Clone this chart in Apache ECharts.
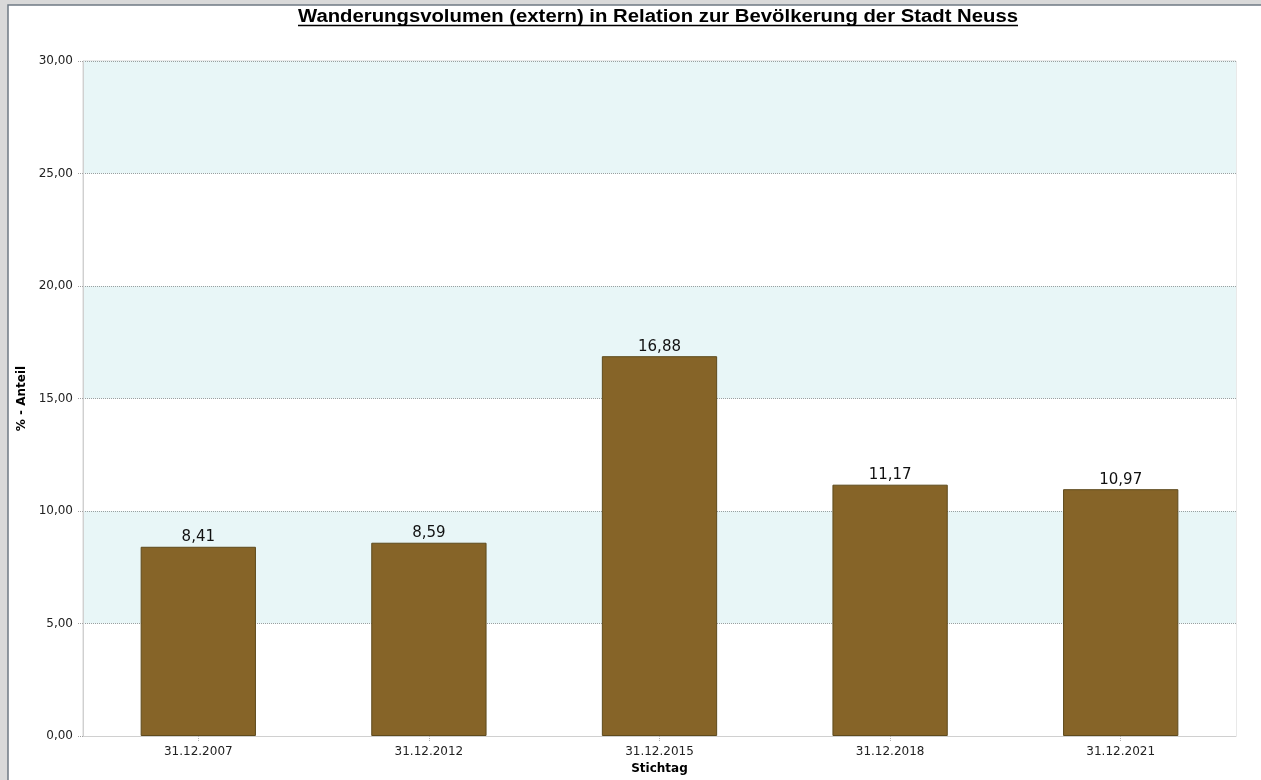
<!DOCTYPE html>
<html>
<head>
<meta charset="utf-8">
<script src="https://cdn.jsdelivr.net/npm/echarts@6/dist/echarts.min.js"></script>
<style>
  html, body { margin: 0; padding: 0; background: #d9d9d9; }
  #main { width: 1261px; height: 780px; }
</style>
</head>
<body>
<div id="main"></div>
<script>
// Daten
var categories = ['31.12.2007', '31.12.2012', '31.12.2015', '31.12.2018', '31.12.2021'];
var values = [8.41, 8.59, 16.88, 11.17, 10.97];
var titleText = 'Wanderungsvolumen (extern) in Relation zur Bevölkerung der Stadt Neuss';

function fmt(v) {
  return Number(v).toFixed(2).replace('.', ',');
}

// Titel etwas breiter laufen lassen (wie im Original), Unterstreichung passend
var titleFont = 'bold 18px "Liberation Sans", Arial, sans-serif';
var cv = document.createElement('canvas').getContext('2d');
cv.font = titleFont;
var tw = cv.measureText(titleText).width;
var targetW = 720;
var tcx = 658;

var myChart = echarts.init(document.getElementById('main'));
myChart.setOption({
  backgroundColor: '#d9d9d9',
  animation: false,
  graphic: [
    // weisses Fenster mit Rahmen
    { type: 'rect', shape: { x: 8, y: 5, width: 1260, height: 780 },
      style: { fill: '#ffffff', stroke: '#6f7a84', lineWidth: 1.5 }, z: -10 },
    { type: 'text', x: tcx, y: 17, scaleX: targetW / tw,
      style: { text: titleText, font: titleFont, fill: '#000',
        textAlign: 'center', textVerticalAlign: 'middle' } },
    { type: 'line', shape: { x1: tcx - targetW / 2, y1: 25.5, x2: tcx + targetW / 2, y2: 25.5 },
      style: { stroke: '#000', lineWidth: 1.5 } }
  ],
  grid: {
    left: 83,
    right: 25,
    top: 61,
    bottom: 44,
    outerBoundsMode: 'none',
    show: true,
    borderColor: '#d4d4d4',
    borderWidth: 1,
    backgroundColor: 'transparent'
  },
  xAxis: {
    type: 'category',
    data: categories,
    name: 'Stichtag',
    nameLocation: 'middle',
    nameGap: 27,
    nameTextStyle: { fontWeight: 'bold', fontSize: 12, color: '#000', fontFamily: 'DejaVu Sans' },
    axisLine: { lineStyle: { color: '#d0d0d0' } },
    axisTick: { show: true, alignWithLabel: true, length: 5, lineStyle: { color: '#b0b0b0', type: 'dotted' } },
    axisLabel: { color: '#222', fontSize: 12, fontFamily: 'DejaVu Sans', margin: 10 }
  },
  yAxis: {
    type: 'value',
    min: 0,
    max: 30,
    interval: 5,
    name: '% - Anteil',
    nameLocation: 'middle',
    nameGap: 54,
    nameTextStyle: { fontWeight: 'bold', fontSize: 12, color: '#000', fontFamily: 'DejaVu Sans' },
    axisLine: { show: true, lineStyle: { color: '#d0d0d0' } },
    axisTick: { show: true, length: 6, lineStyle: { color: '#a0a0a0', type: 'dotted' } },
    axisLabel: { color: '#222', fontSize: 12, fontFamily: 'DejaVu Sans', margin: 10, formatter: fmt },
    splitLine: { show: true, lineStyle: { color: '#9aa0a0', type: 'dotted' } },
    splitArea: { show: true, areaStyle: { color: ['#ffffff', '#e8f6f7'] } }
  },
  series: [{
    type: 'bar',
    data: values,
    barWidth: '50%',
    itemStyle: { color: '#866428', borderColor: '#5e4a1c', borderWidth: 1 },
    label: {
      show: true,
      position: 'top',
      distance: 2,
      color: '#111',
      fontSize: 15,
      fontFamily: 'DejaVu Sans',
      formatter: function (p) { return fmt(p.value); }
    }
  }]
});
</script>
</body>
</html>
